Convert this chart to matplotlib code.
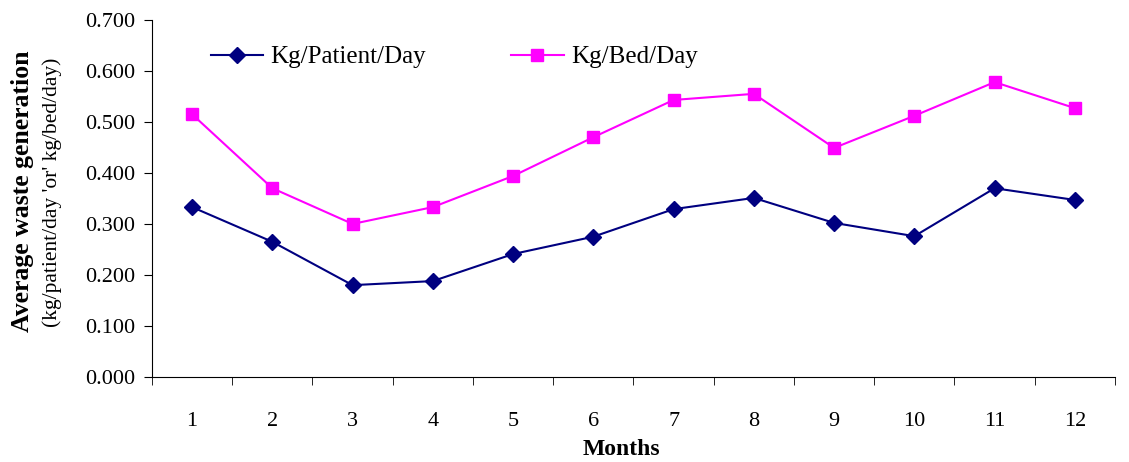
import matplotlib.pyplot as plt

# monthly average waste generation
months = [1, 2, 3, 4, 5, 6, 7, 8, 9, 10, 11, 12]
kg_patient_day = [0.333, 0.265, 0.180, 0.188, 0.241, 0.275, 0.329, 0.351, 0.302, 0.276, 0.370, 0.347]
kg_bed_day = [0.515, 0.370, 0.300, 0.333, 0.394, 0.470, 0.543, 0.555, 0.449, 0.512, 0.578, 0.527]
y_ticks = [0.0, 0.1, 0.2, 0.3, 0.4, 0.5, 0.6, 0.7]

plt.rcParams['font.family'] = ['Liberation Serif', 'DejaVu Serif']

fig = plt.figure(figsize=(11.29, 4.62), dpi=100)
ax = fig.add_axes([0.1346, 0.184, 0.853, 0.773])

ax.plot(months, kg_patient_day, color='#000080', marker='D', markersize=8,
        linewidth=1.5, label='Kg/Patient/Day')
ax.plot(months, kg_bed_day, color='#FF00FF', marker='s', markersize=9,
        linewidth=1.5, label='Kg/Bed/Day')

ax.set_xlim(0.5, 12.5)
ax.set_ylim(0, 0.7)
ax.set_yticks(y_ticks)
ax.set_yticklabels([f"{v:.3f}" for v in y_ticks], fontsize=16)
ax.set_xticks(months)
ax.set_xticklabels([str(m) for m in months], fontsize=16)
# tick marks sit between the categories
ax.set_xticks([m + 0.5 for m in [0] + months], minor=True)
ax.tick_params(axis='x', which='major', length=0, pad=25)
ax.tick_params(axis='x', which='minor', length=6, direction='out')
ax.tick_params(axis='y', length=6, direction='out', pad=6)

for side in ['top', 'right']:
    ax.spines[side].set_visible(False)

ax.set_xlabel('Months', fontsize=17, fontweight='bold')
ax.xaxis.set_label_coords(0.487, -0.175)

fig.text(0.020, 0.585, 'Average waste generation', rotation=90, fontsize=18.5,
         fontweight='bold', ha='center', va='center')
fig.text(0.046, 0.583, "(kg/patient/day 'or' kg/bed/day)", rotation=90, fontsize=15.5,
         ha='center', va='center')

ax.legend(loc='upper left', bbox_to_anchor=(0.0375, 0.99), ncol=2, frameon=False,
          fontsize=18, handlelength=2.1, columnspacing=3.4, handletextpad=0.3)

fig.savefig('out.png', dpi=100)
